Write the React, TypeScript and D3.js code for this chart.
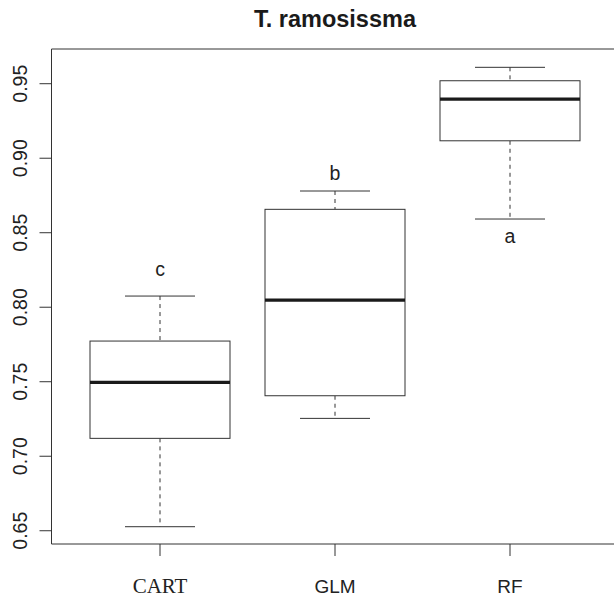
import React from 'react';
import * as d3 from 'd3';

// boxplot stats (AUC per model)
const categories = ['CART', 'GLM', 'RF'];
const whiskerLow = [0.6527, 0.7254, 0.8592];
const q1 = [0.712, 0.7406, 0.9117];
const median = [0.7496, 0.8048, 0.9397];
const q3 = [0.7773, 0.8657, 0.952];
const whiskerHigh = [0.8075, 0.878, 0.961];
const groupLetters = ['c', 'b', 'a'];
const letterY = [0.8245, 0.8887, 0.8462];
const yTicks = [0.65, 0.7, 0.75, 0.8, 0.85, 0.9, 0.95];
const yLimits = [0.6411, 0.9733];

const W = 614;
const H = 598;
const plot = { left: 51.5, right: 618.5, top: 49, bottom: 544 };
const sans = '"Liberation Sans", Arial, sans-serif';
const serif = '"Liberation Serif", "Times New Roman", serif';
const ink = '#333';

const App = () => {
  const x = d3.scaleLinear().domain([0.38, 3.62]).range([plot.left, plot.right]);
  const y = d3.scaleLinear().domain(yLimits).range([plot.bottom, plot.top]);
  const boxW = x(1.4) - x(1);
  const capW = x(1.2) - x(1);

  return (
    <svg width={W} height={H} overflow="hidden"
      style={{ position: 'absolute', left: 0, top: 0, background: '#fff', display: 'block' }}>
      <text x={(plot.left + plot.right) / 2} y={26.7} textAnchor="middle"
        fontFamily={sans} fontWeight="bold" fontSize={23.5} fill="#1a1a1a">T. ramosissma</text>

      {categories.map((c, i) => {
        const cx = x(i + 1);
        return (
          <g key={c}>
            <line x1={cx} x2={cx} y1={y(whiskerHigh[i])} y2={y(q3[i])} stroke={ink} strokeDasharray="4,4" />
            <line x1={cx} x2={cx} y1={y(q1[i])} y2={y(whiskerLow[i])} stroke={ink} strokeDasharray="4,4" />
            <line x1={cx - capW} x2={cx + capW} y1={y(whiskerHigh[i])} y2={y(whiskerHigh[i])} stroke={ink} />
            <line x1={cx - capW} x2={cx + capW} y1={y(whiskerLow[i])} y2={y(whiskerLow[i])} stroke={ink} />
            <rect x={cx - boxW} width={boxW * 2} y={y(q3[i])} height={y(q1[i]) - y(q3[i])}
              fill="#fff" stroke={ink} />
            <line x1={cx - boxW} x2={cx + boxW} y1={y(median[i])} y2={y(median[i])} stroke="#1a1a1a" strokeWidth={3.2} />
            <text x={cx} y={y(letterY[i])} dy="0.25em" textAnchor="middle" fontFamily={sans} fontSize={19.5} fill="#222">
              {groupLetters[i]}
            </text>
          </g>
        );
      })}

      {/* frame: the right side falls outside the page */}
      <line x1={plot.left} x2={W} y1={plot.top} y2={plot.top} stroke={ink} />
      <line x1={plot.left} x2={W} y1={plot.bottom} y2={plot.bottom} stroke={ink} />
      <line x1={plot.left} x2={plot.left} y1={plot.top} y2={plot.bottom} stroke={ink} />

      {/* y axis */}
      {yTicks.map(t => (
        <g key={t}>
          <line x1={plot.left - 12} x2={plot.left} y1={y(t)} y2={y(t)} stroke={ink} />
          <text transform={`translate(26.7,${y(t)}) rotate(-90)`} textAnchor="middle"
            fontFamily={sans} fontSize={19.5} fill="#222">{d3.format('.2f')(t)}</text>
        </g>
      ))}

      {/* x axis */}
      {categories.map((c, i) => (
        <g key={c}>
          <line x1={x(i + 1)} x2={x(i + 1)} y1={plot.bottom} y2={plot.bottom + 12} stroke={ink} />
          <text x={x(i + 1)} y={592.7} textAnchor="middle" fill="#222"
            fontFamily={i === 0 ? serif : sans} fontSize={i === 0 ? 21 : 19}>{c}</text>
        </g>
      ))}
    </svg>
  );
};

export default App;
